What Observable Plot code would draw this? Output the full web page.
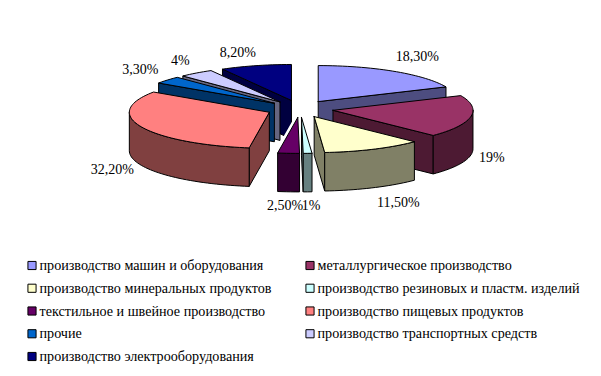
<!DOCTYPE html>
<html><head><meta charset="utf-8">
<script src="https://cdn.jsdelivr.net/npm/d3@7"></script>
<script src="https://cdn.jsdelivr.net/npm/@observablehq/plot@0.6"></script>
<style>html,body{margin:0;padding:0;background:#fff}svg{display:block}</style>
</head><body><div id="chart"></div>
<script>
const categories = ["производство машин и оборудования","металлургическое производство","производство минеральных продуктов","производство резиновых и пластм. изделий","текстильное и швейное производство","производство пищевых продуктов","прочие","производство транспортных средств","производство электрооборудования"];
const values = [18.3,19,11.5,1,2.5,32.2,3.3,4,8.2];
const valueLabels = ["18,30%","19%","11,50%","1%","2,50%","32,20%","3,30%","4%","8,20%"];
const topColors = ["#9999FF","#993366","#FFFFCC","#CCFFFF","#660066","#FF8080","#0066CC","#CCCCFF","#000080"];
const sideColors = ["#4D4D80","#4D1A33","#808066","#668080","#330033","#804040","#003366","#666680","#000040"];
const paintOrder = [8,7,6,5,4,3,0,1,2];
const haloSlice = 4;
const labelOffsets = [[23,-15],[21,41],[25,53],[3.5,52],[-3.5,52],[-29,43],[-27,-11],[-16,-13],[-18,-13]];

// pie geometry in pixel-like units of the x/y scales
const W = 601, H = 376;
const cx = 299.5, cy = 108.3, rx = 140, ry = 36, depth = 38.5, ex = 33.5, ey = 8.6;
const rad = d => d * Math.PI / 180;
const total = d3.sum(values);
let cum = 0;
const slices = values.map((v, i) => {
  const a0 = cum / total * 360; cum += v; const a1 = cum / total * 360;
  const m = rad((a0 + a1) / 2);
  return {i, a0, a1, mid: m, ax: cx + ex * Math.sin(m), ay: cy - ey * Math.cos(m)};
});
const rim = (s, a, d = 0) => ({x: s.ax + rx * Math.sin(rad(a)), y: s.ay - ry * Math.cos(rad(a)) + d});
const arc = (s, a, b, d = 0) => {
  const n = Math.max(1, Math.ceil((b - a) / 2));
  return d3.range(n + 1).map(k => rim(s, a + (b - a) * k / n, d));
};
const backFaces = [], frontFaces = [], haloFaces = [];
let faceId = 0, target = backFaces;
const addFace = (pts, fill, into = target) => {
  const z = faceId++;
  [...pts, pts[0]].forEach(p => into.push({...p, z, fill}));
};
for (const idx of paintOrder) {
  const s = slices[idx];
  const apex = {x: s.ax, y: s.ay}, apexB = {x: s.ax, y: s.ay + depth};
  const side = sideColors[idx];
  const topPts = [apex, ...arc(s, s.a0, s.a1)];
  if (idx === haloSlice) { addFace(topPts, "#fff", haloFaces); target = frontFaces; }
  if (Math.sin(rad(s.a0)) < -1e-6) addFace([apex, rim(s, s.a0), rim(s, s.a0, depth), apexB], side);
  if (Math.sin(rad(s.a1)) > 1e-6) addFace([apex, rim(s, s.a1), rim(s, s.a1, depth), apexB], side);
  const w0 = Math.max(s.a0, 90), w1 = Math.min(s.a1, 270);
  if (w1 > w0) addFace([...arc(s, w0, w1), ...arc(s, w0, w1, depth).reverse()], side);
  addFace(topPts, topColors[idx]);
}
const labels = slices.map((s, i) => {
  const p = rim(s, (s.a0 + s.a1) / 2);
  return {x: p.x + labelOffsets[i][0], y: p.y + labelOffsets[i][1], t: valueLabels[i]};
});
const legendCols = [27, 305], legendTop = 265, legendStep = 22.75;
const legend = categories.map((c, i) => ({
  x: legendCols[i % 2], y: legendTop + legendStep * Math.floor(i / 2), c, fill: topColors[i]
}));
const faceOpts = {x: "x", y: "y", z: "z", fill: "fill", stroke: "#000", strokeWidth: 1, strokeLinejoin: "round"};

const plot = Plot.plot({
  width: W, height: H, margin: 0,
  x: {domain: [0, W], range: [0, W], axis: null},
  y: {domain: [0, H], range: [0, H], axis: null},
  color: {type: "identity"},
  style: {background: "#fff", fontFamily: "'Liberation Serif', serif"},
  marks: [
    Plot.line(backFaces, faceOpts),
    Plot.line(haloFaces, {...faceOpts, stroke: "#fff", strokeWidth: 6}),
    Plot.line(frontFaces, faceOpts),
    Plot.text(labels, {x: "x", y: "y", text: "t", fontSize: 14, fill: "#000", textAnchor: "middle", letterSpacing: "-0.6px"}),
    Plot.dot(legend, {x: d => d.x + 4.5, y: "y", symbol: "square", r: 4.6, fill: "fill", stroke: "#000", strokeWidth: 1}),
    Plot.text(legend, {x: d => d.x + 12, y: "y", text: "c", fontSize: 14.15, fill: "#000", textAnchor: "start"})
  ]
});
document.getElementById("chart").appendChild(plot);
</script></body></html>
